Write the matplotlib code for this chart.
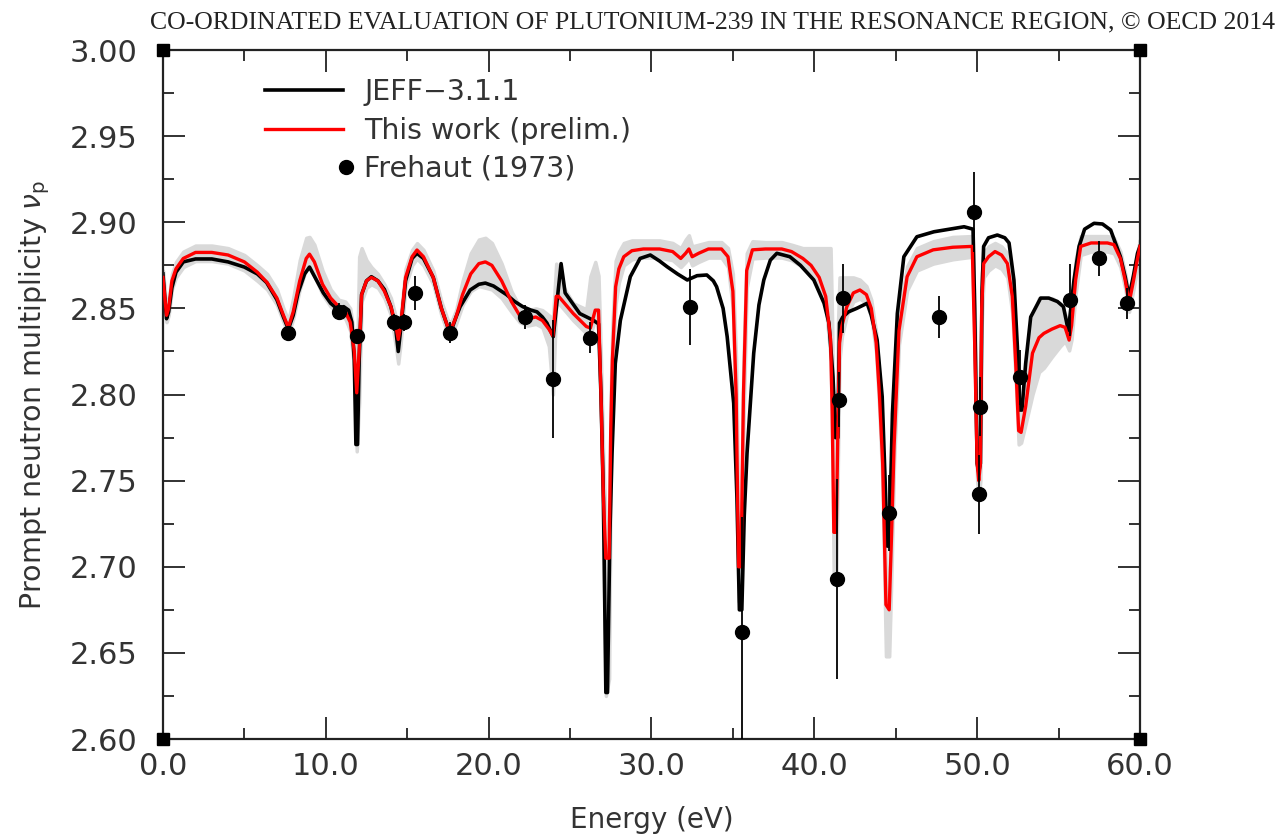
import matplotlib
matplotlib.use("Agg")
import matplotlib.pyplot as plt
from matplotlib.lines import Line2D
from matplotlib.legend_handler import HandlerLine2D
from matplotlib.ticker import MultipleLocator, FormatStrFormatter

# ---- data ----
# This work (prelim.) and its grey uncertainty band (below / above the curve)
this_e = [0.00, 0.10, 0.22, 0.35, 0.55, 0.80, 1.25, 2.0, 3.0, 4.0,
          5.0, 5.8, 6.4, 7.0, 7.4, 7.7, 8.0, 8.4, 8.8, 9.0,
          9.3, 9.8, 10.3, 10.8, 11.2, 11.5, 11.75, 11.9, 12.05, 12.2,
          12.5, 12.8, 13.2, 13.6, 14.0, 14.3, 14.45, 14.6, 14.9, 15.3,
          15.6, 16.0, 16.6, 17.1, 17.5, 17.7, 18.0, 18.4, 18.9, 19.4,
          19.8, 20.2, 20.8, 21.4, 21.9, 22.4, 22.9, 23.3, 23.7, 23.95,
          24.15, 24.3, 25.2, 26.0, 26.25, 26.55, 26.75, 26.9, 27.05, 27.2,
          27.4, 27.5, 27.6, 27.8, 28.0, 28.3, 28.8, 29.5, 30.5, 31.3,
          31.8, 32.1, 32.3, 32.5, 32.9, 33.5, 34.3, 34.7, 35.0, 35.2,
          35.35, 35.5, 35.65, 35.85, 36.2, 37.0, 38.0, 38.6, 39.3, 39.8,
          40.3, 40.7, 41.0, 41.1, 41.2, 41.35, 41.45, 41.55, 41.7, 42.0,
          42.4, 42.8, 43.2, 43.5, 43.8, 44.0, 44.2, 44.4, 44.6, 44.75,
          44.9, 45.2, 45.7, 46.3, 47.3, 48.5, 49.7, 49.85, 50.0, 50.1,
          50.2, 50.28, 50.4, 50.7, 51.1, 51.5, 51.86, 52.16, 52.37, 52.55,
          52.7, 52.98, 53.4, 53.8, 54.1, 54.6, 55.1, 55.4, 55.65, 55.8,
          56.05, 56.36, 57.0, 58.0, 58.4, 58.8, 59.1, 59.33, 59.6, 59.85,
          60.0]
this_v = [2.868, 2.858, 2.846, 2.850, 2.866, 2.873, 2.879, 2.8825, 2.8825, 2.881,
          2.877, 2.871, 2.865, 2.856, 2.846, 2.839, 2.848, 2.866, 2.879, 2.8815,
          2.877, 2.864, 2.856, 2.851, 2.848, 2.842, 2.825, 2.801, 2.825, 2.858,
          2.866, 2.868, 2.866, 2.860, 2.851, 2.840, 2.832, 2.840, 2.868, 2.880,
          2.8839, 2.880, 2.868, 2.850, 2.839, 2.838, 2.845, 2.858, 2.870, 2.876,
          2.877, 2.875, 2.866, 2.854, 2.846, 2.844, 2.845, 2.843, 2.838, 2.834,
          2.857, 2.857, 2.847, 2.8395, 2.8386, 2.849, 2.849, 2.80, 2.74, 2.705,
          2.705, 2.78, 2.82, 2.8626, 2.873, 2.880, 2.8835, 2.8845, 2.8845, 2.883,
          2.879, 2.882, 2.8845, 2.880, 2.882, 2.8845, 2.8845, 2.880, 2.86, 2.80,
          2.70, 2.70, 2.80, 2.872, 2.884, 2.8845, 2.8845, 2.883, 2.879, 2.875,
          2.868, 2.857, 2.832, 2.790, 2.720, 2.720, 2.78, 2.83, 2.840, 2.851,
          2.859, 2.8607, 2.858, 2.850, 2.830, 2.800, 2.76, 2.678, 2.675, 2.72,
          2.77, 2.837, 2.8684, 2.880, 2.884, 2.8855, 2.886, 2.83, 2.76, 2.75,
          2.76, 2.85, 2.876, 2.880, 2.883, 2.881, 2.876, 2.857, 2.818, 2.779,
          2.778, 2.793, 2.824, 2.833, 2.8355, 2.838, 2.840, 2.839, 2.8316, 2.840,
          2.8665, 2.886, 2.888, 2.888, 2.887, 2.879, 2.866, 2.853, 2.866, 2.879,
          2.886]
band_dn = [.004, .005, .004, .004, .005, .005, .005, .005, .005, .005,
           .005, .005, .004, .004, .004, .004, .004, .005, .006, .008,
           .008, .006, .005, .004, .004, .005, .010, .034, .030, .004,
           .004, .004, .004, .004, .005, .012, .014, .010, .005, .005,
           .005, .005, .004, .004, .004, .004, .004, .006, .010, .013,
           .015, .014, .010, .006, .004, .004, .004, .004, .010, .034,
           .005, .004, .004, .004, .004, .005, .008, .010, .030, .080,
           .070, .020, .010, .010, .008, .005, .005, .005, .005, .005,
           .005, .005, .005, .005, .005, .005, .005, .006, .010, .020,
           .020, .020, .020, .010, .005, .005, .005, .005, .005, .005,
           .005, .006, .010, .020, .030, .030, .020, .010, .006, .005,
           .005, .005, .005, .005, .006, .010, .015, .030, .027, .020,
           .010, .008, .008, .008, .008, .007, .006, .010, .010, .010,
           .010, .010, .008, .008, .008, .008, .008, .010, .010, .008,
           .006, .010, .024, .020, .020, .016, .012, .008, .006, .008,
           .008, .005, .005, .005, .005, .005, .005, .005, .005, .005,
           .005]
band_up = [.004, .004, .004, .004, .004, .004, .004, .004, .004, .004,
           .004, .004, .005, .005, .004, .004, .008, .012, .012, .010,
           .010, .008, .005, .004, .006, .008, .010, .010, .055, .027,
           .012, .006, .004, .004, .005, .005, .005, .006, .005, .004,
           .004, .004, .004, .004, .004, .004, .004, .008, .012, .014,
           .014, .013, .010, .006, .005, .005, .005, .006, .008, .010,
           .019, .010, .006, .010, .030, .028, .020, .020, .020, .020,
           .020, .020, .020, .015, .010, .008, .006, .005, .005, .005,
           .006, .008, .008, .006, .005, .004, .004, .005, .010, .020,
           .030, .030, .020, .010, .005, .004, .004, .004, .006, .010,
           .017, .028, .053, .050, .040, .040, .060, .038, .028, .017,
           .009, .006, .005, .005, .006, .010, .010, .020, .020, .020,
           .015, .010, .006, .005, .005, .006, .006, .020, .020, .020,
           .020, .020, .006, .006, .005, .005, .006, .010, .010, .010,
           .012, .020, .021, .023, .020, .018, .013, .008, .006, .008,
           .012, .006, .004, .004, .004, .004, .004, .004, .004, .004,
           .004]

# JEFF-3.1.1
jeff_e = [0.00, 0.10, 0.22, 0.35, 0.55, 0.80, 1.25, 2.0, 3.0, 4.0,
          5.0, 5.8, 6.37, 7.0, 7.4, 7.7, 8.0, 8.3, 8.7, 9.0,
          9.4, 9.85, 10.3, 10.67, 11.1, 11.4, 11.6, 11.75, 11.85, 11.95,
          12.05, 12.2, 12.5, 12.8, 13.2, 13.6, 14.0, 14.3, 14.45, 14.6,
          14.9, 15.3, 15.6, 16.0, 16.6, 17.1, 17.5, 17.7, 18.0, 18.25,
          18.87, 19.4, 19.8, 20.3, 21.1, 21.6, 22.1, 22.6, 22.97, 23.3,
          23.58, 23.97, 24.45, 24.7, 25.6, 26.45, 26.75, 26.9, 27.05, 27.2,
          27.3, 27.45, 27.58, 27.78, 28.09, 28.7, 29.3, 29.93, 30.5, 30.96,
          31.6, 32.2, 32.8, 33.4, 33.8, 34.0, 34.4, 34.65, 35.05, 35.25,
          35.4, 35.55, 35.7, 35.87, 36.28, 36.6, 36.9, 37.3, 37.7, 38.5,
          39.15, 39.97, 40.6, 40.9, 41.15, 41.3, 41.45, 41.55, 41.75, 42.1,
          42.6, 43.25, 43.5, 43.86, 44.17, 44.35, 44.48, 44.6, 44.8, 45.1,
          45.5, 46.3, 47.35, 48.3, 49.2, 49.75, 49.85, 50.0, 50.1, 50.2,
          50.3, 50.4, 50.7, 51.24, 51.7, 51.96, 52.26, 52.47, 52.6, 52.75,
          52.98, 53.29, 53.9, 54.4, 54.93, 55.3, 55.6, 55.95, 56.26, 56.6,
          57.18, 57.7, 58.2, 58.8, 59.1, 59.33, 59.6, 59.85, 60.0]
jeff_v = [2.870, 2.858, 2.844, 2.848, 2.862, 2.871, 2.877, 2.8787, 2.8787, 2.877,
          2.874, 2.870, 2.865, 2.855, 2.845, 2.838, 2.846, 2.859, 2.870, 2.874,
          2.867, 2.859, 2.853, 2.850, 2.851, 2.849, 2.842, 2.82, 2.771, 2.771,
          2.82, 2.858, 2.866, 2.8684, 2.866, 2.861, 2.851, 2.838, 2.825, 2.838,
          2.866, 2.879, 2.882, 2.879, 2.868, 2.850, 2.839, 2.837, 2.845, 2.851,
          2.8607, 2.864, 2.8647, 2.863, 2.858, 2.854, 2.851, 2.849, 2.848, 2.845,
          2.8415, 2.8336, 2.876, 2.859, 2.847, 2.843, 2.841, 2.80, 2.74, 2.627,
          2.627, 2.72, 2.766, 2.818, 2.843, 2.8684, 2.879, 2.881, 2.8775, 2.8742,
          2.870, 2.8665, 2.869, 2.8694, 2.866, 2.8626, 2.850, 2.8336, 2.795, 2.74,
          2.675, 2.675, 2.73, 2.766, 2.824, 2.852, 2.8665, 2.878, 2.882, 2.880,
          2.875, 2.8665, 2.853, 2.8415, 2.81, 2.775, 2.775, 2.8415, 2.845, 2.848,
          2.850, 2.853, 2.846, 2.8316, 2.7987, 2.75, 2.712, 2.712, 2.789, 2.847,
          2.880, 2.8916, 2.8945, 2.896, 2.8974, 2.896, 2.85, 2.76, 2.755, 2.76,
          2.86, 2.886, 2.891, 2.8926, 2.891, 2.888, 2.8665, 2.828, 2.791, 2.791,
          2.818, 2.845, 2.856, 2.856, 2.854, 2.851, 2.837, 2.8665, 2.886, 2.896,
          2.8994, 2.899, 2.8955, 2.880, 2.868, 2.8568, 2.869, 2.882, 2.886]

# Frehaut (1973)
fre_e = [7.7, 10.8, 11.9, 14.2, 14.8, 15.5, 17.65, 22.25, 23.95, 26.2,
         32.35, 35.55, 41.4, 41.5, 41.77, 44.58, 47.65, 49.8, 50.17, 50.1,
         52.63, 55.7, 57.5, 59.2]
fre_v = [2.836, 2.848, 2.834, 2.842, 2.842, 2.859, 2.836, 2.845, 2.809, 2.833,
         2.851, 2.662, 2.693, 2.797, 2.856, 2.731, 2.845, 2.906, 2.793, 2.742,
         2.810, 2.855, 2.879, 2.853]
fre_err = [.004, .005, .004, .005, .005, .010, .006, .007, .034, .009,
           .022, .067, .058, .016, .020, .022, .012, .023, .017, .023,
           .016, .021, .010, .009]

assert len(this_e) == len(this_v) == len(band_dn) == len(band_up)
assert len(jeff_e) == len(jeff_v)
assert len(fre_e) == len(fre_v) == len(fre_err)

xlim = (0.0, 60.0)
ylim = (2.60, 3.00)


class RightMarker(HandlerLine2D):
    # put the single legend marker at the right end of the handle box
    def get_xdata(self, legend, xdescent, ydescent, width, height, fontsize):
        xm = -xdescent + width + 2
        return [xm, xm], [xm]


fig = plt.figure(figsize=(12.81, 8.34), dpi=100)
ax = fig.add_axes([0.1272, 0.1139, 0.7627, 0.8261])

lo = [v - d for v, d in zip(this_v, band_dn)]
hi = [v + u for v, u in zip(this_v, band_up)]
ax.fill_between(this_e, lo, hi, color="#d9d9d9", lw=2.5, edgecolor="#d9d9d9", zorder=1)
ax.plot(jeff_e, jeff_v, color="black", lw=2.6, zorder=2)
ax.plot(this_e, this_v, color="#ff0000", lw=2.4, zorder=3)
ax.errorbar(fre_e, fre_v, yerr=fre_err, fmt="o", color="black", ms=10,
            elinewidth=1.3, capsize=0, zorder=4)

ax.set_xlim(*xlim)
ax.set_ylim(*ylim)
ax.xaxis.set_major_locator(MultipleLocator(10))
ax.xaxis.set_minor_locator(MultipleLocator(5))
ax.yaxis.set_major_locator(MultipleLocator(0.05))
ax.yaxis.set_minor_locator(MultipleLocator(0.025))
ax.xaxis.set_major_formatter(FormatStrFormatter("%.1f"))
ax.yaxis.set_major_formatter(FormatStrFormatter("%.2f"))
ax.tick_params(which="both", direction="in", top=True, right=True,
               color="#222222", width=1.3, labelsize=22, labelcolor="#333333")
ax.tick_params(which="major", length=16)
ax.tick_params(which="minor", length=8)
ax.tick_params(axis="y", pad=18)
ax.tick_params(axis="x", pad=9)
for s in ax.spines.values():
    s.set_linewidth(1.6)
    s.set_color("#222222")

# corner marks
ax.plot([xlim[0], xlim[1], xlim[0], xlim[1]], [ylim[0], ylim[0], ylim[1], ylim[1]],
        "s", color="black", ms=9, clip_on=False, zorder=6)

ax.set_xlabel("Energy (eV)", fontsize=20, color="#333333", labelpad=18)
ax.set_ylabel(r"Prompt neutron multiplicity $\nu_\mathrm{p}$", fontsize=20.5,
              color="#333333", labelpad=13)

handles = [Line2D([], [], color="black", lw=2.6),
           Line2D([], [], color="#ff0000", lw=2.4),
           Line2D([], [], color="black", marker="o", ms=10, ls="none")]
leg = ax.legend(handles, ["JEFF\u22123.1.1", "This work (prelim.)", "Frehaut (1973)"],
                loc="upper left", bbox_to_anchor=(0.104, 0.959), frameon=False,
                borderpad=0, borderaxespad=0, fontsize=20.5, handlelength=2.75,
                handletextpad=0.75, labelspacing=0.36,
                handler_map={handles[2]: RightMarker()})
for t in leg.get_texts():
    t.set_color("#333333")

fig.text(0.995, 0.973, "CO-ORDINATED EVALUATION OF PLUTONIUM-239 IN THE RESONANCE REGION, \u00a9 OECD 2014",
         ha="right", va="center", fontsize=18.5, family="Liberation Serif", color="#222222")

fig.savefig("out.png", dpi=100)
